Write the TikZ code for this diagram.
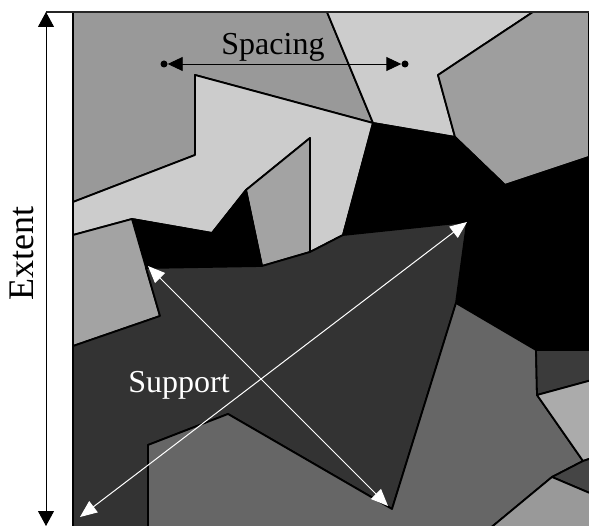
\documentclass[tikz,border=0pt]{standalone}
\usepackage{fontspec}
\setmainfont{Liberation Serif}
\usetikzlibrary{arrows.meta}
\definecolor{cgA}{gray}{0.60}
\definecolor{cgL}{gray}{0.80}
\definecolor{cgD}{gray}{0.20}
\definecolor{cgM}{gray}{0.40}
\definecolor{cgR}{gray}{0.62}
\definecolor{cgP}{gray}{0.64}
\definecolor{cgQ}{gray}{0.67}
\definecolor{cgT}{gray}{0.23}
\definecolor{cgU}{gray}{0.27}
\begin{document}
\begin{tikzpicture}[x=1pt,y=-1pt,
  region/.style={draw=black,line width=1.8pt,line join=round},
  dotnode/.style={circle,fill=black,inner sep=0pt,minimum size=7pt},
  blackarrow/.style={line width=0.9pt,{Triangle[length=15pt,width=14pt]}-{Triangle[length=15pt,width=14pt]}},
  whitearrow/.style={white,line width=1pt,{Triangle[length=17pt,width=14pt]}-{Triangle[length=17pt,width=14pt]}},
  label/.style={font=\fontsize{32}{38}\selectfont,inner sep=0pt,anchor=base}]
\useasboundingbox (0,0) rectangle (589,526);
\begin{scope}
\clip (73,12) rectangle (589,526);
% top-left gray
\filldraw[region,fill=cgA] (73,12) -- (327,12) -- (373,123) -- (195,75) -- (195,155) -- (73,202) -- cycle;
% light gray L-shape
\filldraw[region,fill=cgL] (73,202) -- (195,155) -- (195,75) -- (373,123) -- (343,235) -- (310,252) -- (310,138) -- (246,190) -- (212,233) -- (132,219) -- (73,235) -- cycle;
% small rectangle
\filldraw[region,fill=cgP] (246,190) -- (310,138) -- (310,252) -- (262,266) -- cycle;
% black left piece
\filldraw[region,fill=black] (132,219) -- (212,233) -- (246,190) -- (262,266) -- (146,268) -- cycle;
% left gray piece
\filldraw[region,fill=cgP] (73,235) -- (132,219) -- (160,316) -- (73,346) -- cycle;
% top-right light gray
\filldraw[region,fill=cgL] (327,12) -- (533,12) -- (438,75) -- (455,137) -- (373,123) -- cycle;
% top-right gray
\filldraw[region,fill=cgR] (533,12) -- (589,12) -- (589,157) -- (505,185) -- (455,137) -- (438,75) -- cycle;
% big black
\filldraw[region,fill=black] (373,123) -- (455,137) -- (505,185) -- (589,157) -- (589,350) -- (536,350) -- (456,303) -- (467,222) -- (343,235) -- cycle;
% support dark region
\filldraw[region,fill=cgD] (73,346) -- (160,316) -- (146,268) -- (262,266) -- (310,252) -- (343,235) -- (467,222) -- (456,303) -- (392,509) -- (228,414) -- (148,445) -- (148,530) -- (73,530) -- cycle;
% medium dark region
\filldraw[region,fill=cgM] (148,530) -- (148,445) -- (228,414) -- (392,509) -- (456,303) -- (536,350) -- (537,395) -- (583,461) -- (552,477) -- (488,530) -- cycle;
% right dark piece
\filldraw[region,fill=cgT] (536,350) -- (592,350) -- (592,380) -- (537,395) -- cycle;
% right light piece
\filldraw[region,fill=cgQ] (537,395) -- (592,380) -- (592,458) -- (583,461) -- cycle;
% thin dark piece
\filldraw[region,fill=cgU] (552,477) -- (583,461) -- (592,458) -- (592,494) -- cycle;
% bottom-right gray
\filldraw[region,fill=cgA] (488,530) -- (552,477) -- (592,494) -- (592,530) -- cycle;
\end{scope}
% frame
\draw[line width=2.5pt] (73,12) -- (73,526);
\draw[line width=1.8pt,black!85] (46,12) -- (589,12);
% extent arrow
\coordinate (et) at (46,12);
\coordinate (eb) at (46,526);
\draw[line width=0.9pt,{Triangle[length=15pt,width=16pt]}-{Triangle[length=15pt,width=16pt]}] (et) -- (eb);
\node[label,font=\fontsize{36}{42}\selectfont,rotate=90] (ext) at (33,254) {Extent};
% spacing
\node[dotnode] (s1) at (164,64) {};
\node[dotnode] (s2) at (405,64) {};
\draw[blackarrow] (s1) -- (s2);
\node[label] (sp) at (273,55) {Spacing};
% support
\coordinate (a1) at (80,517);
\coordinate (a2) at (467,222);
\coordinate (b1) at (148,266);
\coordinate (b2) at (388,506);
\draw[whitearrow] (a1) -- (a2);
\draw[whitearrow] (b1) -- (b2);
\node[label,white] (su) at (179,393) {Support};
\end{tikzpicture}
\end{document}
